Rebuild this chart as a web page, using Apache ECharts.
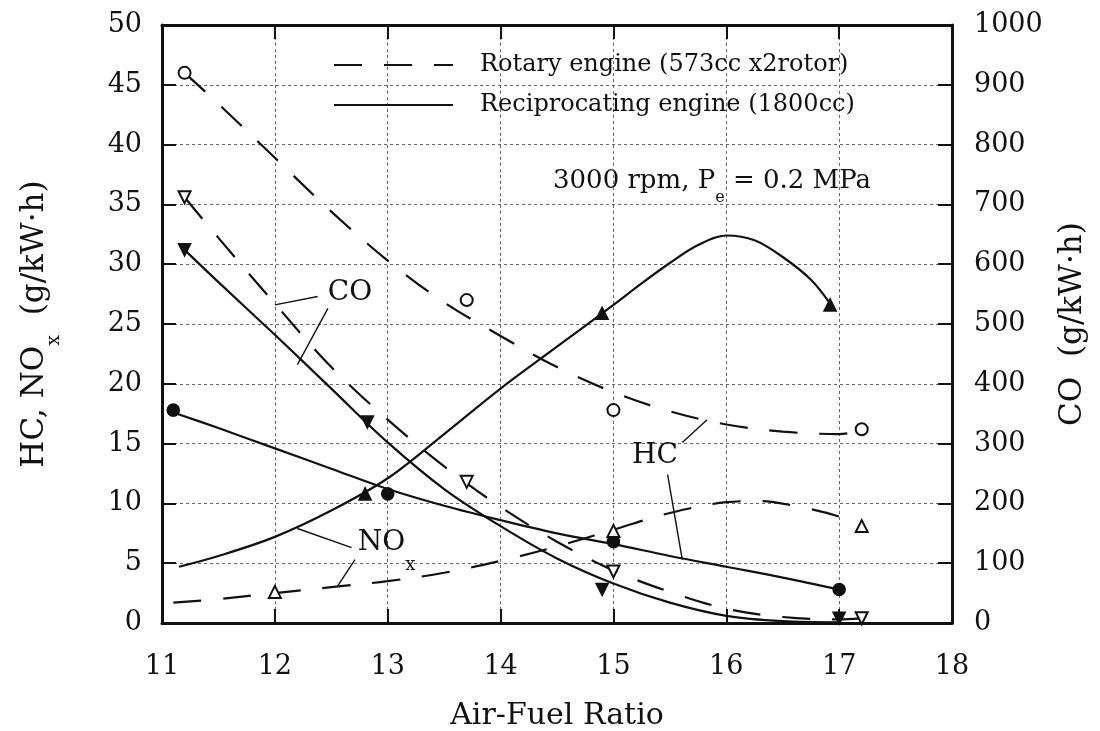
<!DOCTYPE html>
<html>
<head>
<meta charset="utf-8">
<title>HC, NOx and CO vs Air-Fuel Ratio</title>
<script src="https://cdn.jsdelivr.net/npm/echarts@6/dist/echarts.min.js"></script>
<style>
  html, body { margin: 0; padding: 0; background: #fff; }
  #main { width: 1100px; height: 731px; }
</style>
</head>
<body>
<div id="main"></div>
<script>
const FONT = 'DejaVu Serif'
const INK = '#111'

// axes
const afrTicks = [11, 12, 13, 14, 15, 16, 17, 18]
const hcNoxTicks = [0, 5, 10, 15, 20, 25, 30, 35, 40, 45, 50]
const coTicks = [0, 100, 200, 300, 400, 500, 600, 700, 800, 900, 1000]

const ROTARY = 'Rotary engine (573cc x2rotor)'
const RECIP = 'Reciprocating engine (1800cc)'

// fitted curves, HC and NOx in g/kW·h (left axis), CO in g/kW·h (right axis)
const rotaryHcX = [11.2, 11.5, 12, 12.5, 13, 13.5, 14, 14.5, 15, 15.5, 16, 16.5, 17, 17.2]
const rotaryHcY = [46, 43.4, 38.9, 34.4, 30.3, 26.8, 24.0, 21.4, 19.3, 17.7, 16.6, 16.0, 15.8, 16.1]

const recipHcX = [11.1, 11.5, 12, 12.5, 13, 13.5, 14, 14.5, 15, 15.5, 16, 16.5, 17]
const recipHcY = [17.6, 16.3, 14.6, 12.9, 11.2, 9.8, 8.6, 7.5, 6.6, 5.6, 4.7, 3.8, 2.8]

const rotaryNoxX = [11.1, 11.5, 12, 12.5, 13, 13.5, 14, 14.5, 15, 15.5, 16, 16.3, 16.6, 17, 17.2]
const rotaryNoxY = [1.7, 2.0, 2.5, 3.0, 3.5, 4.2, 5.2, 6.4, 7.8, 9.2, 10.1, 10.2, 9.8, 8.9, 8.0]

const recipNoxX = [11.15, 11.5, 12, 12.5, 13, 13.5, 14, 14.5, 15, 15.25, 15.5, 15.75, 16, 16.25, 16.5, 16.75, 16.92]
const recipNoxY = [4.7, 5.6, 7.2, 9.4, 12.1, 15.8, 19.6, 23.1, 26.6, 28.4, 30.1, 31.6, 32.4, 32.0, 30.6, 28.7, 26.7]

const rotaryCoX = [11.2, 11.5, 12, 12.5, 13, 13.5, 14, 14.5, 15, 15.5, 16, 16.5, 17, 17.2]
const rotaryCoY = [712, 644, 534, 428, 340, 262, 194, 136, 88, 52, 24, 10, 6, 8]

const recipCoX = [11.2, 11.5, 12, 12.5, 13, 13.5, 14, 14.5, 15, 15.5, 16, 16.5, 17]
const recipCoY = [624, 570, 482, 392, 302, 224, 162, 108, 66, 34, 12, 3, 1]

// measured points
const rotaryHcPtX = [11.2, 13.7, 15, 17.2]
const rotaryHcPtY = [46, 27, 17.8, 16.2]
const recipHcPtX = [11.1, 13.0, 15.0, 17.0]
const recipHcPtY = [17.8, 10.8, 6.8, 2.8]
const rotaryNoxPtX = [12, 15, 17.2]
const rotaryNoxPtY = [2.6, 7.7, 8.1]
const recipNoxPtX = [12.8, 14.9, 16.92]
const recipNoxPtY = [10.8, 25.9, 26.6]
const rotaryCoPtX = [11.2, 13.7, 15, 17.2]
const rotaryCoPtY = [712, 236, 86, 8]
const recipCoPtX = [11.2, 12.82, 14.9, 17.0]
const recipCoPtY = [624, 336, 56, 8]

// curve labels and their leader lines (left axis units)
const labelText = ['CO', 'HC', 'NO{s|x}']
const labelAt = [[12.666, 27.6], [15.368, 13.96], [12.99, 6.69]]
const leaders = [
  [[12.38, 27.3], [12.0, 26.6]],
  [[12.47, 26.3], [12.2, 21.6]],
  [[15.61, 15.1], [15.83, 17.0]],
  [[15.48, 12.4], [15.61, 5.3]],
  [[12.68, 6.3], [12.2, 7.9]],
  [[12.71, 5.3], [12.55, 3.0]]
]

const zip = (xs, ys) => xs.map((x, i) => [x, ys[i]])

function curve(name, xs, ys, yAxisIndex, dashed) {
  return {
    name, type: 'line', yAxisIndex, data: zip(xs, ys),
    smooth: 0.35, symbol: 'none', silent: true, z: 3,
    lineStyle: { color: INK, width: 2.2, type: dashed ? [28, 22] : 'solid' },
    itemStyle: { color: INK }
  }
}

function points(name, xs, ys, yAxisIndex, symbol, rotate) {
  return {
    name, type: 'scatter', yAxisIndex, data: zip(xs, ys),
    symbol, symbolSize: 12, symbolRotate: rotate || 0, z: 4,
    itemStyle: { color: INK, borderColor: INK, borderWidth: 1.6, opacity: 1 }
  }
}

const tickStyle = { inside: true, length: 14, lineStyle: { color: INK, width: 2 } }
const frameLine = { show: true, onZero: false, lineStyle: { color: INK, width: 3 } }
const gridLine = { show: true, lineStyle: { color: '#666', width: 1, type: [3, 3] } }
const tickLabel = { fontFamily: FONT, fontSize: 27, color: INK, formatter: v => String(v) }

const series = [
  curve(ROTARY, rotaryHcX, rotaryHcY, 0, true),
  curve(RECIP, recipHcX, recipHcY, 0, false),
  curve(ROTARY, rotaryNoxX, rotaryNoxY, 0, true),
  curve(RECIP, recipNoxX, recipNoxY, 0, false),
  curve(ROTARY, rotaryCoX, rotaryCoY, 1, true),
  curve(RECIP, recipCoX, recipCoY, 1, false),
  points('Rotary HC', rotaryHcPtX, rotaryHcPtY, 0, 'emptyCircle'),
  points('Recip HC', recipHcPtX, recipHcPtY, 0, 'circle'),
  points('Rotary NOx', rotaryNoxPtX, rotaryNoxPtY, 0, 'emptyTriangle'),
  points('Recip NOx', recipNoxPtX, recipNoxPtY, 0, 'triangle'),
  points('Rotary CO', rotaryCoPtX, rotaryCoPtY, 1, 'emptyTriangle', 180),
  points('Recip CO', recipCoPtX, recipCoPtY, 1, 'triangle', 180)
]

leaders.forEach((seg, i) => {
  series.push({
    name: 'leader' + i, type: 'line', data: seg, symbol: 'none', silent: true, z: 2,
    lineStyle: { color: INK, width: 1.4 }
  })
})

series.push({
  name: 'labels', type: 'scatter', silent: true, z: 5,
  symbolSize: 0, itemStyle: { color: INK, opacity: 1 },
  data: labelAt.map((p, i) => ({ value: p, name: labelText[i] })),
  label: {
    show: true, position: 'inside', formatter: p => p.name,
    fontFamily: FONT, fontSize: 28, color: INK, lineHeight: 62,
    rich: { s: { fontFamily: FONT, fontSize: 18, color: INK, lineHeight: 18, verticalAlign: 'bottom' } }
  }
})

const chart = echarts.init(document.getElementById('main'))
chart.setOption({
  animation: false,
  backgroundColor: '#fff',
  grid: { left: 162, right: 148, top: 25, bottom: 108, outerBoundsMode: 'none' },
  legend: {
    data: [ROTARY, RECIP], orient: 'vertical', left: 328, top: 48,
    itemWidth: 119, itemHeight: 14, itemGap: 16, selectedMode: false,
    itemStyle: { opacity: 0 },
    textStyle: { fontFamily: FONT, fontSize: 24, color: INK, padding: [0, 0, 0, 22] }
  },
  xAxis: [{
    type: 'value', min: afrTicks[0], max: afrTicks[afrTicks.length - 1], interval: afrTicks[1] - afrTicks[0],
    name: 'Air-Fuel Ratio', nameLocation: 'middle', nameGap: 76,
    nameTextStyle: { fontFamily: FONT, fontSize: 30, color: INK, lineHeight: 34 },
    axisLine: frameLine, axisTick: tickStyle, splitLine: gridLine,
    axisLabel: Object.assign({ margin: 30 }, tickLabel)
  }, {
    type: 'value', position: 'top', min: afrTicks[0], max: afrTicks[afrTicks.length - 1], interval: afrTicks[1] - afrTicks[0],
    axisLine: frameLine, axisTick: tickStyle, splitLine: { show: false }, axisLabel: { show: false }
  }],
  yAxis: [{
    type: 'value', position: 'left', min: hcNoxTicks[0], max: hcNoxTicks[hcNoxTicks.length - 1], interval: hcNoxTicks[1] - hcNoxTicks[0],
    name: 'HC, NO{s|x}  (g/kW·h)', nameLocation: 'middle', nameRotate: 90, nameGap: 98,
    nameTextStyle: {
      fontFamily: FONT, fontSize: 31, color: INK, lineHeight: 58,
      rich: { s: { fontFamily: FONT, fontSize: 19, color: INK, lineHeight: 19, verticalAlign: 'bottom' } }
    },
    axisLine: frameLine, axisTick: tickStyle, splitLine: gridLine,
    axisLabel: Object.assign({ margin: 20 }, tickLabel)
  }, {
    type: 'value', position: 'right', min: coTicks[0], max: coTicks[coTicks.length - 1], interval: coTicks[1] - coTicks[0],
    name: 'CO  (g/kW·h)', nameLocation: 'middle', nameRotate: 90, nameGap: 104,
    nameTextStyle: { fontFamily: FONT, fontSize: 31, color: INK, lineHeight: 34 },
    axisLine: frameLine, axisTick: tickStyle, splitLine: { show: false },
    axisLabel: Object.assign({ margin: 22 }, tickLabel)
  }],
  graphic: [{
    type: 'text', left: 553, top: 156, silent: true,
    style: {
      text: '3000 rpm, P{e|e} = 0.2 MPa',
      fontFamily: FONT, fontSize: 26, fill: INK, lineHeight: 50,
      rich: { e: { fontFamily: FONT, fontSize: 16, fill: INK, lineHeight: 16, verticalAlign: 'bottom' } }
    }
  }],
  series
})
</script>
</body>
</html>
